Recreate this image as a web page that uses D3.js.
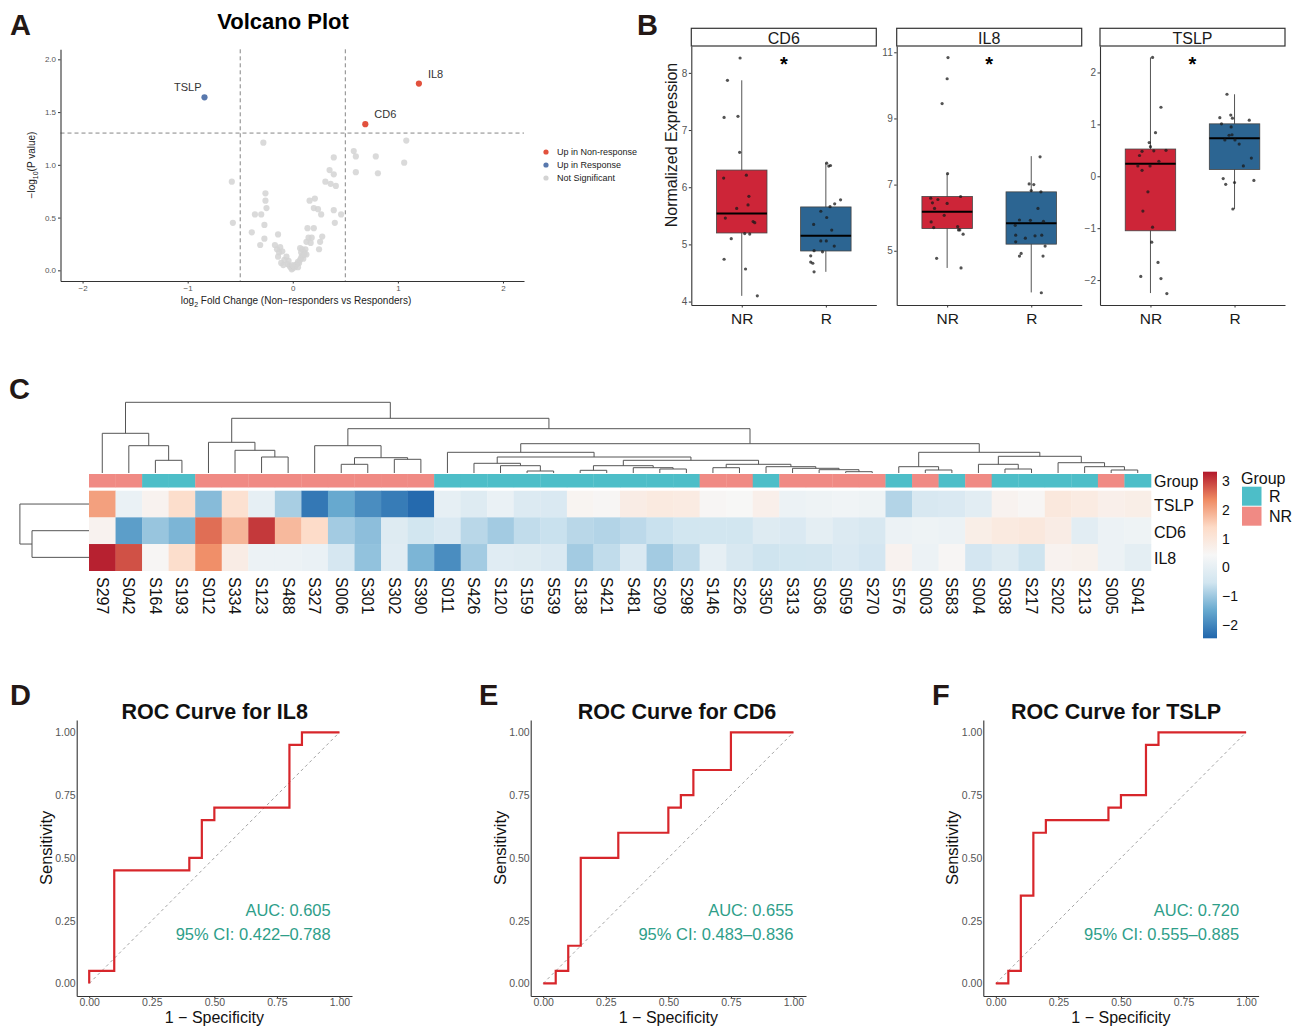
<!DOCTYPE html>
<html>
<head>
<meta charset="utf-8">
<script src="https://cdn.jsdelivr.net/npm/d3@7"></script>
<style>
  body { margin: 0; background: #fff; }
  svg { display: block; }
</style>
</head>
<body>
<svg id="fig" width="1299" height="1026"></svg>
<script>
// ---------- data: A, volcano ----------
const sigGenes = ["TSLP", "CD6", "IL8"];
const sigFC = [-0.84, 0.69, 1.2];
const sigP = [1.64, 1.385, 1.77];
const sigStatus = ["Up in Response", "Up in Non-response", "Up in Non-response"];
const volcanoLegend = ["Up in Non-response", "Up in Response", "Not Significant"];
const nsFC = [-0.28, -0.58, -0.57, -0.26, -0.26, -0.25, -0.36, -0.3, -0.27, -0.39, -0.27, -0.31, -0.14,
  -0.17, -0.15, -0.13, -0.12, -0.1, -0.14, -0.11, -0.08, -0.06, -0.05, -0.03, -0.02, -0.01, 0, 0.01, 0.02,
  0.03, 0.04, 0.05, 0.06, 0.07, 0.08, 0.09, 0.1, 0.11, 0.12, 0.13, -0.09, 0, 0.05, -0.04, 0.07, 0.09, 0.08, 0.11,
  0.14, 0.2, 0.21, 0.16, 0.2, 0.24, 0.27, 0.15, 0.18, 0.28, 0.13, 0.17, 0.26, 0.25, 0.35, 0.39, 0.39, 0.31,
  0.36, 0.41, 0.39, 0.46, 0.4, 0.58, 0.6, 0.6, 0.79, 0.81, 1.08, 1.06];
const nsP = [1.21, 0.84, 0.45, 0.73, 0.66, 0.59, 0.53, 0.53, 0.43, 0.36, 0.3, 0.24, 0.34,
  0.24, 0.2, 0.17, 0.22, 0.18, 0.13, 0.07, 0.1, 0.13, 0.06, 0.04, 0.03, 0.01, 0.02, 0.04, 0.03,
  0.05, 0.06, 0.08, 0.07, 0.1, 0.12, 0.14, 0.11, 0.17, 0.2, 0.15, 0.05, 0.05, 0.03, 0.09, 0.21, 0.2, 0.17, 0.15,
  0.4, 0.4, 0.68, 0.66, 0.59, 0.58, 0.53, 0.31, 0.31, 0.32, 0.27, 0.26, 0.27, 0.2, 0.95, 1.07, 0.91, 0.84,
  0.82, 0.8, 0.57, 0.53, 0.45, 1.13, 1.08, 0.93, 1.08, 0.92, 1.23, 1.02];

// ---------- data: B, boxplots ----------
const boxGenes = ["CD6", "IL8", "TSLP"];
const boxGroups = ["NR", "R"];
const boxYDomain = [[3.94, 8.47], [3.36, 11.19], [-2.48, 2.51]];
const boxYTicks = [[4, 5, 6, 7, 8], [5, 7, 9, 11], [-2, -1, 0, 1, 2]];
// [whisker low, q1, median, q3, whisker high]
const cd6NRStats = [4.1, 5.2, 5.54, 6.3, 7.87];
const cd6RStats = [4.52, 4.885, 5.15, 5.655, 6.43];
const il8NRStats = [4.48, 5.67, 6.18, 6.64, 7.33];
const il8RStats = [3.74, 5.2, 5.83, 6.78, 7.86];
const tslpNRStats = [-2.25, -1.05, 0.24, 0.525, 2.29];
const tslpRStats = [-0.63, 0.13, 0.735, 1.01, 1.58];
const cd6NR = [8.26, 7.87, 7.22, 7.24, 6.61, 6.16, 6.21, 5.84, 5.69, 5.63, 5.46, 5.4, 5.38, 5.19, 5.18, 5.1, 4.74, 4.57, 4.1];
const cd6NRJit = [-0.02, -0.17, -0.21, -0.045, -0.025, -0.215, 0.055, 0.085, 0.075, -0.06, -0.195, 0.135, 0.155, 0.035, 0.095, -0.125, -0.21, 0.045, 0.185];
const cd6R = [6.42, 6.38, 6.37, 5.78, 5.71, 5.66, 5.58, 5.47, 5.35, 5.25, 4.97, 5.06, 5.06, 4.89, 4.87, 4.8, 4.69, 4.67, 4.52];
const cd6RJit = [0.01, 0.055, 0.035, 0.175, 0.105, 0.05, -0.06, 0.01, -0.145, 0.07, 0.1, -0.06, 0.005, -0.14, -0.04, -0.18, -0.18, -0.155, -0.14];
const il8NR = [10.84, 10.2, 9.45, 7.33, 6.59, 6.55, 6.45, 6.43, 6.64, 6.28, 6.07, 5.87, 5.7, 5.73, 5.63, 5.63, 5.5, 4.77, 4.48];
const il8NRJit = [0.01, 0, -0.06, 0.005, -0.195, -0.11, -0.175, 0, 0.16, -0.15, -0.035, -0.19, -0.16, 0.125, 0.135, 0.15, 0.19, -0.125, 0.165];
const il8R = [7.84, 7.02, 7.0, 6.82, 6.78, 6.28, 5.93, 5.92, 5.89, 5.77, 5.47, 5.45, 5.47, 5.38, 5.14, 5.27, 4.92, 4.84, 4.84, 3.73];
const il8RJit = [0.105, -0.025, 0.03, 0, 0.115, 0.08, -0.14, -0.01, 0.145, -0.19, -0.185, 0.045, 0.125, -0.07, 0.165, -0.185, -0.12, -0.14, 0.14, 0.12];
const tslpNR = [2.29, 1.33, 0.84, 0.65, 0.57, 0.4, 0.49, 0.5, 0.48, 0.29, 0.2, 0.2, 0.115, -0.3, -0.67, -0.98, -1.27, -1.66, -1.93, -1.97, -2.26];
const tslpNRJit = [0.025, 0.125, 0.06, -0.015, 0, -0.13, 0.04, 0.185, -0.1, 0.1, -0.005, -0.15, -0.1, -0.03, -0.09, 0.025, 0.015, 0.09, -0.115, 0.125, 0.195];
const tslpR = [1.58, 1.13, 1.18, 1.12, 1.08, 1.01, 0.95, 0.8, 0.79, 0.7, 0.7, 0.62, 0.35, 0.2, -0.045, -0.155, -0.12, -0.08, -0.63];
const tslpRJit = [-0.09, -0.175, -0.045, -0.025, 0.175, -0.155, -0.04, -0.03, -0.065, -0.115, 0.005, 0.055, 0.2, 0.105, -0.135, -0.105, 0, 0.23, -0.02];

// ---------- data: C, heatmap ----------
const samples = ["S297", "S042", "S164", "S193", "S012", "S334", "S123", "S488", "S327", "S006",
  "S301", "S302", "S390", "S011", "S426", "S120", "S159", "S539", "S138", "S421",
  "S481", "S209", "S298", "S146", "S226", "S350", "S313", "S036", "S059", "S270",
  "S576", "S003", "S583", "S004", "S038", "S217", "S202", "S213", "S005", "S041"];
const sampleGroup = ["NR", "NR", "R", "R", "NR", "NR", "NR", "NR", "NR", "NR",
  "NR", "NR", "NR", "R", "R", "R", "R", "R", "R", "R",
  "R", "R", "R", "NR", "NR", "R", "NR", "NR", "NR", "NR",
  "R", "NR", "R", "NR", "R", "R", "R", "R", "NR", "R"];
const heatRows = ["TSLP", "CD6", "IL8"];
const tslpZ = [2.1, 0.1, 0.6, 1.3, -1.2, 1.2, 0.0, -0.9, -2.2, -1.5,
  -1.9, -2.15, -2.4, 0.0, -0.2, 0.1, -0.25, -0.3, 0.55, 0.5,
  0.8, 0.9, 0.85, 0.5, 0.45, 0.7, 0.15, 0.2, 0.25, 0.2,
  -0.8, -0.35, -0.3, -0.1, 0.6, 0.5, 0.95, 0.85, 0.7, 0.75];
const cd6Z = [0.6, -1.65, -1.05, -1.3, 2.6, 1.85, 3.05, 1.8, 1.35, -0.95,
  -1.15, -0.2, -0.5, -0.3, -0.75, -0.95, -0.68, -0.6, -0.75, -0.8,
  -0.72, -0.6, -0.5, -0.5, -0.5, -0.2, -0.3, -0.05, -0.25, -0.35,
  0.15, 0.2, 0.15, 0.75, 0.9, 0.95, 0.8, -0.1, 0.15, 0.2];
const il8Z = [3.25, 2.85, 0.5, 1.3, 2.3, 0.8, 0.15, 0.15, 0.1, -0.4,
  -1.1, -0.15, -1.3, -1.9, -0.95, -0.15, -0.2, -0.3, -0.95, -0.68,
  -0.3, -0.95, -0.7, 0.0, -0.35, -0.55, -0.5, -0.48, -0.3, -0.45,
  0.6, 0.15, 0.5, -0.45, -0.2, -0.55, 0.6, 0.65, 0.15, -0.05];
const zRange = [-2.46, 3.33];
const zTicks = [-2, -1, 0, 1, 2, 3];
// hierarchical clustering: [merge height, left, right]
const colTree =
  [7.07,
    [3.97, "S297", [2.73, "S042", [1.27, "S164", "S193"]]],
    [5.47,
      [3.07, "S012", [2.27, "S334", [1.6, "S123", "S488"]]],
      [4.43,
        [2.73, "S327", [1.53, [0.87, "S006", "S301"], [1.37, "S302", "S390"]]],
        [2.93,
          [2.07, "S011",
            [1.6,
              [0.97, "S426", [0.73, "S120", [0.2, "S159", "S539"]]],
              [1.27,
                [0.73, [0.27, "S138", "S421"], [0.53, "S481", [0.4, "S209", "S298"]]],
                [0.87, [0.53, "S146", "S226"],
                  [0.63, "S350", [0.47, "S313", [0.33, "S036", [0.13, "S059", "S270"]]]]]]]],
          [2.07,
            [0.63, "S576", [0.3, "S003", "S583"]],
            [1.67,
              [0.87, "S004", [0.4, "S038", "S217"]],
              [1.03, "S202", [0.63, "S213", [0.3, "S005", "S041"]]]]]]]]];
const rowTree = [6.91, "TSLP", [5.7, "CD6", "IL8"]];

// ---------- data: D-F, ROC ----------
const il8RocX = [0, 0, 0.1, 0.1, 0.4, 0.4, 0.45, 0.45, 0.5, 0.5, 0.8, 0.8, 0.85, 0.85, 1];
const il8RocY = [0, 0.05, 0.05, 0.45, 0.45, 0.5, 0.5, 0.65, 0.65, 0.7, 0.7, 0.95, 0.95, 1, 1];
const cd6RocX = [0, 0.05, 0.05, 0.1, 0.1, 0.15, 0.15, 0.3, 0.3, 0.5, 0.5, 0.55, 0.55, 0.6, 0.6, 0.75, 0.75, 1];
const cd6RocY = [0, 0, 0.05, 0.05, 0.15, 0.15, 0.5, 0.5, 0.6, 0.6, 0.7, 0.7, 0.75, 0.75, 0.85, 0.85, 1, 1];
const tslpRocX = [0, 0.05, 0.05, 0.1, 0.1, 0.15, 0.15, 0.2, 0.2, 0.45, 0.45, 0.5, 0.5, 0.6, 0.6, 0.65, 0.65, 1];
const tslpRocY = [0, 0, 0.05, 0.05, 0.35, 0.35, 0.6, 0.6, 0.65, 0.65, 0.7, 0.7, 0.75, 0.75, 0.95, 0.95, 1, 1];
const rocTicks = [0, 0.25, 0.5, 0.75, 1];

// ---------- drawing ----------
const FONT = "'Liberation Sans', Arial, Helvetica, sans-serif";
const svg = d3.select("#fig").attr("font-family", FONT);
svg.append("rect").attr("width", 1299).attr("height", 1026).attr("fill", "#fff");

function styleAxis(g, size, color) {
  g.attr("font-family", FONT);
  g.select(".domain").attr("stroke", "#333").attr("stroke-width", 1.1);
  g.selectAll(".tick line").attr("stroke", "#333");
  g.selectAll(".tick text").attr("fill", color).attr("font-size", size);
}
function letter(txt, x, y) {
  svg.append("text").attr("x", x).attr("y", y).text(txt)
    .attr("font-size", 29).attr("font-weight", "bold").attr("fill", "#231815");
}

// ===== A: volcano =====
letter("A", 10, 35);
const vx = d3.scaleLinear().domain([-2.21, 2.2]).range([60.5, 524]);
const vy = d3.scaleLinear().domain([-0.101, 2.095]).range([281, 49.3]);
const statusColor = { "Up in Non-response": "#E2513D", "Up in Response": "#5878AD", "Not Significant": "#D3D3D3" };
const gA = svg.append("g");
gA.append("text").attr("x", 283).attr("y", 29).attr("text-anchor", "middle")
  .attr("font-size", 22).attr("font-weight", "bold").text("Volcano Plot");
// threshold lines
[-0.5, 0.5].forEach(v => gA.append("line").attr("x1", vx(v)).attr("x2", vx(v)).attr("y1", 49.3).attr("y2", 281)
  .attr("stroke", "#666").attr("stroke-width", 0.8).attr("stroke-dasharray", "4,3"));
gA.append("line").attr("x1", 60.5).attr("x2", 524).attr("y1", vy(-Math.log10(0.05))).attr("y2", vy(-Math.log10(0.05)))
  .attr("stroke", "#666").attr("stroke-width", 0.8).attr("stroke-dasharray", "4,3");
gA.append("g").selectAll("circle").data(nsFC).join("circle")
  .attr("cx", d => vx(d)).attr("cy", (d, i) => vy(nsP[i])).attr("r", 3.1)
  .attr("fill", statusColor["Not Significant"]).attr("opacity", 0.85);
gA.append("g").selectAll("circle").data(sigGenes).join("circle")
  .attr("cx", (d, i) => vx(sigFC[i])).attr("cy", (d, i) => vy(sigP[i])).attr("r", 3.1)
  .attr("fill", (d, i) => statusColor[sigStatus[i]]);
gA.append("g").selectAll("text").data(sigGenes).join("text")
  .attr("x", (d, i) => vx(sigFC[i]) + (sigFC[i] < 0 ? -3 : 9))
  .attr("y", (d, i) => vy(sigP[i]) - 6)
  .attr("text-anchor", (d, i) => sigFC[i] < 0 ? "end" : "start")
  .attr("font-size", 11).attr("fill", "#333").text(d => d);
const axAy = gA.append("g").attr("transform", "translate(60.5,0)")
  .call(d3.axisLeft(vy).tickValues([0, 0.5, 1, 1.5, 2]).tickFormat(d3.format(".1f")).tickSize(2.5).tickSizeOuter(0).tickPadding(2));
styleAxis(axAy, 8, "#555");
const axAx = gA.append("g").attr("transform", "translate(0,281)")
  .call(d3.axisBottom(vx).tickValues([-2, -1, 0, 1, 2]).tickFormat(d3.format("d")).tickSize(2.5).tickSizeOuter(0).tickPadding(2));
styleAxis(axAx, 8, "#555");
const xtA = gA.append("text").attr("x", 296).attr("y", 304).attr("text-anchor", "middle").attr("font-size", 10).attr("fill", "#222");
xtA.append("tspan").text("log");
xtA.append("tspan").attr("font-size", 7).attr("dy", 3).text("2");
xtA.append("tspan").attr("dy", -3).text(" Fold Change (Non\u2212responders vs Responders)");
const ytA = gA.append("text").attr("transform", "translate(35,165) rotate(-90)").attr("text-anchor", "middle")
  .attr("font-size", 10).attr("fill", "#222");
ytA.append("tspan").text("\u2212log");
ytA.append("tspan").attr("font-size", 7).attr("dy", 3).text("10");
ytA.append("tspan").attr("dy", -3).text("(P value)");
const lgA = gA.append("g").selectAll("g").data(volcanoLegend).join("g")
  .attr("transform", (d, i) => `translate(546,${152 + i * 13})`);
lgA.append("circle").attr("r", 2.6).attr("fill", d => statusColor[d]);
lgA.append("text").attr("x", 11).attr("dy", "0.35em").attr("font-size", 9).attr("fill", "#222").text(d => d);

// ===== B: boxplots =====
letter("B", 637, 35);
const boxLeft = [691.3, 896.7, 1100];
const boxW = 185, boxTop = 46, boxBottom = 305;
const boxStats = [[cd6NRStats, cd6RStats], [il8NRStats, il8RStats], [tslpNRStats, tslpRStats]];
const boxPts = [[[cd6NR, cd6NRJit], [cd6R, cd6RJit]], [[il8NR, il8NRJit], [il8R, il8RJit]], [[tslpNR, tslpNRJit], [tslpR, tslpRJit]]];
const groupFill = { NR: "#CD2538", R: "#2C6592" };
boxGenes.forEach((gene, gi) => {
  const L = boxLeft[gi];
  const g = svg.append("g");
  const x = d3.scaleLinear().domain([0.4, 2.6]).range([L, L + boxW]);
  const y = d3.scaleLinear().domain(boxYDomain[gi]).range([boxBottom, boxTop]);
  g.append("rect").attr("x", L).attr("y", 28.3).attr("width", boxW).attr("height", boxTop - 28.3)
    .attr("fill", "#fff").attr("stroke", "#333").attr("stroke-width", 1.2);
  g.append("text").attr("x", L + boxW / 2).attr("y", 43.5).attr("text-anchor", "middle")
    .attr("font-size", 16).attr("fill", "#1a1a1a").text(gene);
  boxGroups.forEach((grp, k) => {
    const s = boxStats[gi][k];
    const cx = x(k + 1), hw = x(1.3) - x(1);
    g.append("line").attr("x1", cx).attr("x2", cx).attr("y1", y(s[0])).attr("y2", y(s[4]))
      .attr("stroke", "#555").attr("stroke-width", 1);
    g.append("rect").attr("x", cx - hw).attr("width", 2 * hw).attr("y", y(s[3])).attr("height", y(s[1]) - y(s[3]))
      .attr("fill", groupFill[grp]).attr("stroke", "#444").attr("stroke-width", 0.8);
    g.append("line").attr("x1", cx - hw).attr("x2", cx + hw).attr("y1", y(s[2])).attr("y2", y(s[2]))
      .attr("stroke", "#000").attr("stroke-width", 2);
    const [vals, jit] = boxPts[gi][k];
    g.append("g").selectAll("circle").data(vals).join("circle")
      .attr("cx", (d, i) => x(k + 1 + jit[i])).attr("cy", d => y(d)).attr("r", 1.6)
      .attr("fill", "#1a1a1a").attr("opacity", 0.75);
  });
  g.append("text").attr("x", L + boxW / 2).attr("y", 71).attr("text-anchor", "middle")
    .attr("font-size", 20).attr("font-weight", "bold").text("*");
  const ay = g.append("g").attr("transform", `translate(${L},0)`)
    .call(d3.axisLeft(y).tickValues(boxYTicks[gi]).tickFormat(d3.format("d")).tickSize(2.5).tickSizeOuter(0).tickPadding(1.5));
  styleAxis(ay, 10, "#555");
  const ax = g.append("g").attr("transform", `translate(0,${boxBottom})`)
    .call(d3.axisBottom(x).tickValues([1, 2]).tickFormat(d => boxGroups[d - 1]).tickSize(2.5).tickSizeOuter(0).tickPadding(5));
  styleAxis(ax, 15.5, "#1a1a1a");
});
svg.append("text").attr("transform", "translate(677,145) rotate(-90)").attr("text-anchor", "middle")
  .attr("font-size", 16).attr("fill", "#1a1a1a").text("Normalized Expression");

// ===== C: heatmap =====
letter("C", 9, 399);
const hx = d3.scaleBand().domain(samples).range([89, 1151]);
const hy = d3.scaleBand().domain(heatRows).range([490.7, 570.7]);
const zVals = { TSLP: tslpZ, CD6: cd6Z, IL8: il8Z };
const rdbu = ["#2166AC", "#67A9CF", "#D1E5F0", "#F7F7F7", "#FDDBC7", "#EF8A62", "#B2182B"];
const zStops = rdbu.map((c, i) => zRange[0] + i * (zRange[1] - zRange[0]) / (rdbu.length - 1));
const zColor = d3.scaleLinear().domain(zStops).range(rdbu).clamp(true);
const grpColor = { R: "#4DBEC8", NR: "#F08A84" };
const gC = svg.append("g");
gC.append("g").selectAll("rect").data(samples).join("rect")
  .attr("x", d => hx(d)).attr("y", 474).attr("width", hx.bandwidth() + 0.3).attr("height", 13.5)
  .attr("fill", (d, i) => grpColor[sampleGroup[i]]);
heatRows.forEach(r => {
  gC.append("g").selectAll("rect").data(samples).join("rect")
    .attr("x", d => hx(d)).attr("y", hy(r)).attr("width", hx.bandwidth() + 0.3).attr("height", hy.bandwidth() + 0.3)
    .attr("fill", (d, i) => zColor(zVals[r][i]));
});
function layoutTree(node, pos, out) {
  if (typeof node === "string") return { p: pos(node), h: 0 };
  const [h, a, b] = node;
  const A = layoutTree(a, pos, out), B = layoutTree(b, pos, out);
  out.push({ h, A, B });
  return { p: (A.p + B.p) / 2, h };
}
const colLinks = [];
layoutTree(colTree, s => hx(s) + hx.bandwidth() / 2, colLinks);
const dy = d3.scaleLinear().domain([0, colTree[0]]).range([473, 402.3]);
gC.append("g").selectAll("path").data(colLinks).join("path")
  .attr("d", d => `M${d.A.p},${dy(d.A.h)}V${dy(d.h)}H${d.B.p}V${dy(d.B.h)}`)
  .attr("fill", "none").attr("stroke", "#555").attr("stroke-width", 1);
const rowLinks = [];
layoutTree(rowTree, r => hy(r) + hy.bandwidth() / 2, rowLinks);
const dx = d3.scaleLinear().domain([0, rowTree[0]]).range([89, 19.9]);
gC.append("g").selectAll("path").data(rowLinks).join("path")
  .attr("d", d => `M${dx(d.A.h)},${d.A.p}H${dx(d.h)}V${d.B.p}H${dx(d.B.h)}`)
  .attr("fill", "none").attr("stroke", "#555").attr("stroke-width", 1);
// labels
gC.append("g").selectAll("text").data(["Group"].concat(heatRows)).join("text")
  .attr("x", 1154).attr("y", (d, i) => i === 0 ? 481 : hy(d) + hy.bandwidth() / 2 + 1.5)
  .attr("dy", "0.35em").attr("font-size", 16).attr("fill", "#111").text(d => d);
gC.append("g").selectAll("text").data(samples).join("text")
  .attr("transform", d => `translate(${hx(d) + hx.bandwidth() / 2},577) rotate(90)`)
  .attr("dy", "0.35em").attr("font-size", 16).attr("fill", "#111").text(d => d);
// colour bar
const grad = svg.append("defs").append("linearGradient").attr("id", "zgrad")
  .attr("x1", 0).attr("y1", 1).attr("x2", 0).attr("y2", 0);
grad.selectAll("stop").data(rdbu).join("stop")
  .attr("offset", (d, i) => i / (rdbu.length - 1)).attr("stop-color", d => d);
const cb = d3.scaleLinear().domain(zRange).range([638.3, 471.7]);
gC.append("rect").attr("x", 1203).attr("y", cb(zRange[1])).attr("width", 14).attr("height", cb(zRange[0]) - cb(zRange[1]))
  .attr("fill", "url(#zgrad)");
gC.append("g").selectAll("text").data(zTicks).join("text")
  .attr("x", 1222).attr("y", d => cb(d)).attr("dy", "0.35em").attr("font-size", 14).attr("fill", "#111")
  .text(d => d3.format("d")(d));
gC.append("text").attr("x", 1241).attr("y", 483.5).attr("font-size", 16).attr("fill", "#111").text("Group");
const lgC = gC.append("g").selectAll("g").data(["R", "NR"]).join("g")
  .attr("transform", (d, i) => `translate(1242,${486.7 + i * 20})`);
lgC.append("rect").attr("width", 19.5).attr("height", 19).attr("fill", d => grpColor[d]);
lgC.append("text").attr("x", 27).attr("y", 9.5).attr("dy", "0.35em").attr("font-size", 16).attr("fill", "#111").text(d => d);

// ===== D-F: ROC curves =====
const rocPanels = [
  { letter: "D", lx: 10, gene: "IL8", xs: il8RocX, ys: il8RocY, auc: "AUC: 0.605", ci: "95% CI: 0.422\u20130.788", left: 76.7, tx: 0.965, titleX: 214.7 },
  { letter: "E", lx: 479, gene: "CD6", xs: cd6RocX, ys: cd6RocY, auc: "AUC: 0.655", ci: "95% CI: 0.483\u20130.836", left: 530.7, tx: 1.0, titleX: 677 },
  { letter: "F", lx: 932, gene: "TSLP", xs: tslpRocX, ys: tslpRocY, auc: "AUC: 0.720", ci: "95% CI: 0.555\u20130.885", left: 983.3, tx: 0.972, titleX: 1116 }
];
rocPanels.forEach(p => {
  letter(p.letter, p.lx, 705);
  const g = svg.append("g");
  const x = d3.scaleLinear().domain([-0.05, 1.05]).range([p.left, p.left + 275.3]);
  const y = d3.scaleLinear().domain([-0.05, 1.049]).range([996, 720]);
  g.append("text").attr("x", p.titleX).attr("y", 719).attr("text-anchor", "middle")
    .attr("font-size", 21.5).attr("font-weight", "bold").attr("fill", "#111").text("ROC Curve for " + p.gene);
  g.append("line").attr("x1", x(0)).attr("y1", y(0)).attr("x2", x(1)).attr("y2", y(1))
    .attr("stroke", "#999").attr("stroke-width", 0.9).attr("stroke-dasharray", "3,3");
  g.append("path").datum(p.xs)
    .attr("d", d3.line().x(d => x(d)).y((d, i) => y(p.ys[i])))
    .attr("fill", "none").attr("stroke", "#D7262B").attr("stroke-width", 2.2);
  const ay = g.append("g").attr("transform", `translate(${p.left},0)`)
    .call(d3.axisLeft(y).tickValues(rocTicks).tickFormat(d3.format(".2f")).tickSize(0).tickSizeOuter(0).tickPadding(1));
  styleAxis(ay, 10.5, "#555");
  const ax = g.append("g").attr("transform", "translate(0,996)")
    .call(d3.axisBottom(x).tickValues(rocTicks).tickFormat(d3.format(".2f")).tickSize(2).tickSizeOuter(0).tickPadding(1));
  styleAxis(ax, 10.5, "#555");
  g.append("text").attr("x", x(0.5)).attr("y", 1022.5).attr("text-anchor", "middle")
    .attr("font-size", 16).attr("fill", "#111").text("1 \u2212 Specificity");
  g.append("text").attr("transform", `translate(${p.left - 25},${(y(0) + y(1)) / 2 - 10}) rotate(-90)`)
    .attr("text-anchor", "middle").attr("font-size", 16.5).attr("fill", "#111").text("Sensitivity");
  g.append("text").attr("x", x(p.tx)).attr("y", y(0.29)).attr("dy", "0.35em").attr("text-anchor", "end")
    .attr("font-size", 16.5).attr("fill", "#2E9E89").text(p.auc);
  g.append("text").attr("x", x(p.tx)).attr("y", y(0.197)).attr("dy", "0.35em").attr("text-anchor", "end")
    .attr("font-size", 16.5).attr("fill", "#2E9E89").text(p.ci);
});
</script>
</body>
</html>
